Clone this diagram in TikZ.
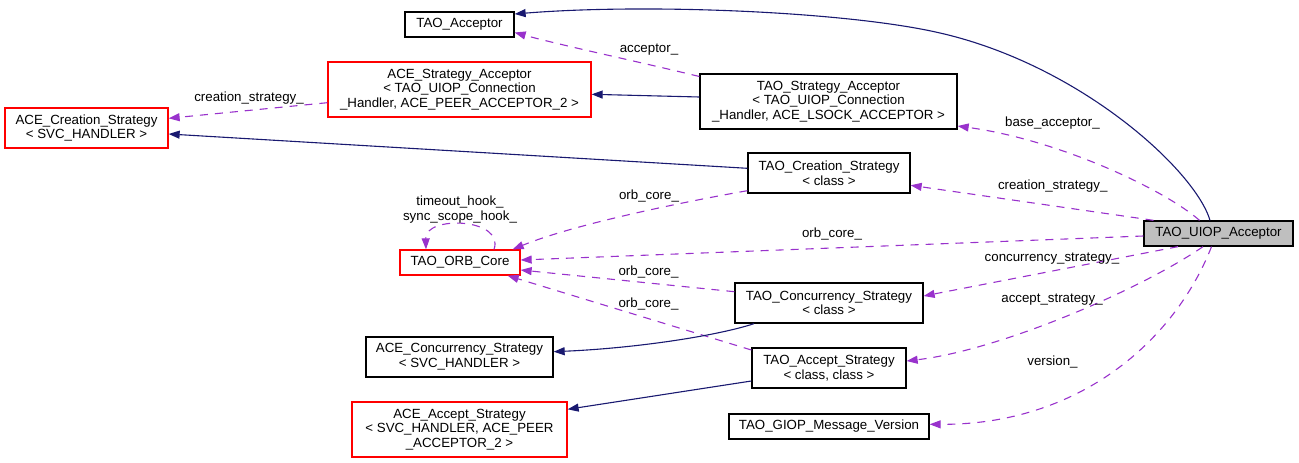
\documentclass[tikz,border=0pt]{standalone}
\usepackage{fontspec}
\setmainfont{Liberation Sans}
\usetikzlibrary{arrows.meta}
\definecolor{navyedge}{HTML}{191970}
\definecolor{orchidedge}{HTML}{9932CC}
\definecolor{uiopgray}{HTML}{BFBFBF}
\newcommand{\dfs}{\fontsize{13.3}{14.8}\selectfont}
\tikzset{
  box/.style={draw=black, line width=1.3pt, rectangle, inner sep=0pt, align=center, font=\dfs},
  redbox/.style={box, draw=red},
  lbl/.style={inner sep=0pt, align=center, font=\dfs},
  inh/.style={draw=navyedge, line width=1.1pt, -{Triangle[length=11pt,width=8pt]}},
  use/.style={draw=orchidedge, line width=1.1pt, dash pattern=on 8pt off 7pt, -{Triangle[length=11pt,width=8pt]}}
}
\begin{document}
\begin{tikzpicture}[x=1pt,y=-1pt]
\useasboundingbox (0,0) rectangle (1299,463);
% nodes
\node[box, minimum width=109pt, minimum height=25pt] (tacc) at (459.5,24.5) {TAO\_Acceptor};
\node[redbox, minimum width=263pt, minimum height=55pt] (asa) at (459.5,89.5) {ACE\_Strategy\_Acceptor\\< TAO\_UIOP\_Connection\\\_Handler, ACE\_PEER\_ACCEPTOR\_2 >};
\node[redbox, minimum width=163pt, minimum height=40pt] (acs) at (86.5,128) {ACE\_Creation\_Strategy\\< SVC\_HANDLER >};
\node[box, minimum width=257pt, minimum height=55pt] (tsa) at (828.5,101.5) {TAO\_Strategy\_Acceptor\\< TAO\_UIOP\_Connection\\\_Handler, ACE\_LSOCK\_ACCEPTOR >};
\node[box, minimum width=162pt, minimum height=40pt] (tcs) at (829,173) {TAO\_Creation\_Strategy\\< class >};
\node[redbox, minimum width=120pt, minimum height=25pt] (orb) at (460,262.5) {TAO\_ORB\_Core};
\node[box, minimum width=188pt, minimum height=40pt] (tconc) at (829,303) {TAO\_Concurrency\_Strategy\\< class >};
\node[box, minimum width=187pt, minimum height=40pt] (aconc) at (459.5,357) {ACE\_Concurrency\_Strategy\\< SVC\_HANDLER >};
\node[box, minimum width=154pt, minimum height=40pt] (tas) at (829,368) {TAO\_Accept\_Strategy\\< class, class >};
\node[redbox, minimum width=215pt, minimum height=55pt] (aas) at (459.5,429.5) {ACE\_Accept\_Strategy\\< SVC\_HANDLER, ACE\_PEER\\\_ACCEPTOR\_2 >};
\node[box, minimum width=200pt, minimum height=25pt] (giop) at (829,426.5) {TAO\_GIOP\_Message\_Version};
\node[box, fill=uiopgray, minimum width=149pt, minimum height=25pt] (uiop) at (1218.5,233.5) {TAO\_UIOP\_Acceptor};
% edges
\draw[inh] ([xshift=-8.5pt]uiop.north) .. controls (1195,170) and (1080,65) .. (940,33) .. controls (850,12) and (650,3) .. ([yshift=10.5pt]tacc.east);
\draw[use] ([yshift=25pt]tsa.west) .. controls (640,62) and (560,45) .. ([yshift=-8pt]tacc.east);
\node[lbl] (l2) at (649,50) {acceptor\_};
\draw[inh] ([yshift=4.5pt]tsa.west) -- ([yshift=-4.8pt]asa.east);
\draw[use] ([yshift=-13.2pt]asa.west) -- ([yshift=9.7pt]acs.east);
\node[lbl] (l4) at (249,98) {creation\_strategy\_};
\draw[inh] ([yshift=4.7pt]tcs.west) -- ([yshift=-6pt]acs.east);
\draw[use] ([xshift=34pt]orb.north) .. controls (505,218) and (425,215) .. ([xshift=-34pt]orb.north);
\node[lbl] (l6) at (460,209.8) {timeout\_hook\_\\sync\_scope\_hook\_};
\draw[use] ([yshift=-17.7pt]tcs.west) .. controls (700,199) and (580,222) .. ([xshift=-8pt]orb.north east);
\node[lbl] (l7) at (649,196) {orb\_core\_};
\draw[use] ([yshift=-2.5pt]uiop.west) -- ([yshift=2.5pt]orb.east);
\node[lbl] (l8) at (832,234.3) {orb\_core\_};
\draw[use] ([yshift=11.3pt]tconc.west) -- ([yshift=-7.5pt]orb.east);
\node[lbl] (l9) at (648.5,271.7) {orb\_core\_};
\draw[use] ([yshift=18pt]tas.west) -- ([xshift=-13pt]orb.south east);
\node[lbl] (l10) at (648.5,304) {orb\_core\_};
\draw[inh] ([xshift=-75pt]tconc.south) .. controls (720,335) and (640,348) .. ([yshift=5.3pt]aconc.east);
\draw[inh] ([yshift=-13pt]tas.west) -- ([yshift=20.2pt]aas.east);
\draw[use] ([xshift=-19pt]uiop.north) .. controls (1165,190) and (1060,140) .. ([yshift=-24.5pt]tsa.east);
\node[lbl] (l13) at (1052.5,123.3) {base\_acceptor\_};
\draw[use] ([xshift=-65pt]uiop.north) -- ([yshift=-12.3pt]tcs.east);
\node[lbl] (l14) at (1052.7,185.7) {creation\_strategy\_};
\draw[use] ([xshift=-40.5pt]uiop.south) -- ([yshift=7pt]tconc.east);
\node[lbl] (l15) at (1052,259) {concurrency\_strategy\_};
\draw[use] ([xshift=-15.5pt]uiop.south) .. controls (1140,290) and (1000,350) .. ([yshift=7pt]tas.east);
\node[lbl] (l16) at (1052,300) {accept\_strategy\_};
\draw[use] ([xshift=-7pt]uiop.south) .. controls (1175,340) and (1080,425) .. ([yshift=2.2pt]giop.east);
\node[lbl] (l17) at (1052.5,361.7) {version\_};
\end{tikzpicture}
\end{document}
